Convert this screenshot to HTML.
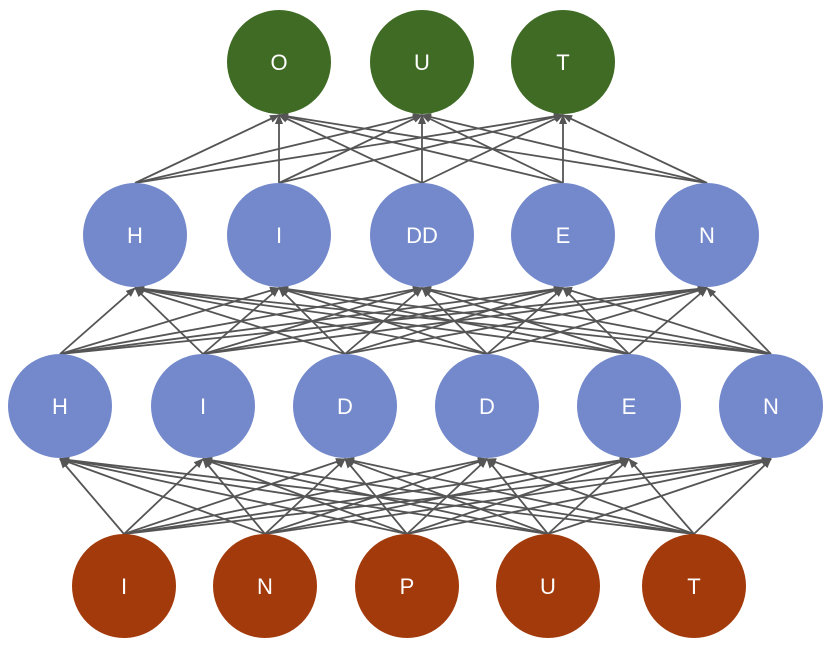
<!DOCTYPE html>
<html><head><meta charset="utf-8"><style>body{margin:0;background:#fff}svg{display:block}</style></head>
<body>
<svg id="s" width="833" height="646" viewBox="0 0 833 646" xmlns="http://www.w3.org/2000/svg">
<defs><marker id="a" markerWidth="10" markerHeight="10" refX="9" refY="5" orient="auto" markerUnits="userSpaceOnUse"><path d="M0,1 L10,5 L0,9 z" fill="#555"/></marker></defs>
<g id="lines" stroke="#555" stroke-width="1.8" fill="none"></g>
<g id="nodes" font-family="Liberation Sans, sans-serif" font-size="22" fill="#fff" text-anchor="middle"></g>
</svg>
<script>
var R=52;
var layers=[
 {y:62,xs:[279,422,563],c:"#3f6b24",l:["O","U","T"]},
 {y:235,xs:[135,279,422,563,707],c:"#7489cb",l:["H","I","DD","E","N"]},
 {y:406,xs:[60,203,345,487,629,771],c:"#7489cb",l:["H","I","D","D","E","N"]},
 {y:586,xs:[124,265,407,548,694],c:"#a33a0c",l:["I","N","P","U","T"]}
];
var ns="http://www.w3.org/2000/svg",L=document.getElementById("lines"),N=document.getElementById("nodes");
for(var i=1;i<4;i++){var s=layers[i],t=layers[i-1];
 s.xs.forEach(function(sx){t.xs.forEach(function(tx){
  var p=document.createElementNS(ns,"line");
  p.setAttribute("x1",sx);p.setAttribute("y1",s.y-R);p.setAttribute("x2",tx);p.setAttribute("y2",t.y+R+1);
  p.setAttribute("marker-end","url(#a)");L.appendChild(p);});});}
layers.forEach(function(ly){ly.xs.forEach(function(x,j){
 var c=document.createElementNS(ns,"circle");c.setAttribute("cx",x);c.setAttribute("cy",ly.y);c.setAttribute("r",R);c.setAttribute("fill",ly.c);N.appendChild(c);
 var tx=document.createElementNS(ns,"text");tx.setAttribute("x",x);tx.setAttribute("y",ly.y+8);tx.textContent=ly.l[j];N.appendChild(tx);});});
</script>
</body></html>
